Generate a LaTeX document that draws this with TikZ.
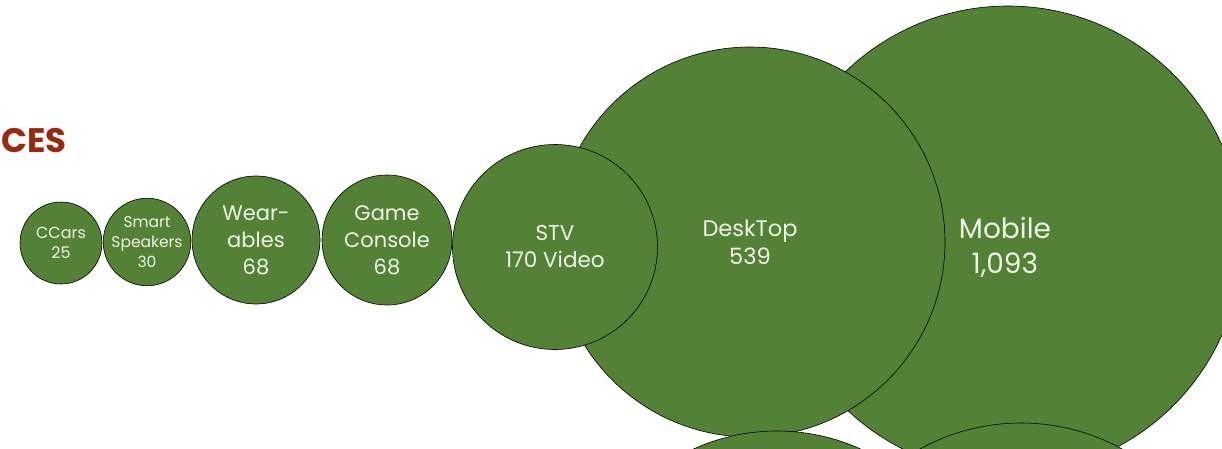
\documentclass[tikz,border=0pt]{standalone}
\usepackage{fontspec}
\setmainfont{Poppins}
\usepackage{xcolor}
\usepackage{tikz}
\definecolor{bubblegreen}{RGB}{83,129,53}
\definecolor{labelcream}{RGB}{240,242,232}
\definecolor{headred}{RGB}{153,40,15}
\tikzset{
    bubble/.style={circle, draw=black, line width=0.6pt, fill=bubblegreen, text=labelcream, align=center, inner sep=0pt},
    heading/.style={text=headred, font={\bfseries\fontsize{34}{38}\selectfont}, inner sep=0pt}
}

\begin{document}
\begin{tikzpicture}[x=1pt, y=-1pt]
    \useasboundingbox (0,0) rectangle (1222,449);
    \clip (0,0) rectangle (1222,449);

    % Title
    \node[heading, anchor=west] (title) at (1,141) {CES};

    % Large bubbles, back to front
    \node[bubble, minimum size=468] (mobile) at (1008,240) {};
    \node[text=labelcream, align=center, font={\fontsize{28}{35}\selectfont}] (mobiletext) at (1005,247) {Mobile\\1,093};
    \node[bubble, minimum size=390, font={\fontsize{22.5}{28}\selectfont}] (desktop) at (750,242) {DeskTop\\539};
    \node[bubble, minimum size=205, font={\fontsize{21.5}{27}\selectfont}] (stv) at (555,247) {STV\\170 Video};

    % Bubbles below the frame
    \node[bubble, minimum size=404] (lowleft) at (777,633) {};
    \node[bubble, minimum size=418] (lowright) at (1021,632) {};

    % Small bubbles
    \node[bubble, minimum size=130, font={\fontsize{21}{27}\selectfont}] (console) at (387,240) {Game\\Console\\68};
    \node[bubble, minimum size=128, font={\fontsize{21}{27}\selectfont}] (wearables) at (256,240) {Wear-\\ables\\68};
    \node[bubble, minimum size=85, font={\fontsize{15.5}{20}\selectfont}] (speakers) at (147,242) {Smart\\Speakers\\30};
    \node[bubble, minimum size=82, font={\fontsize{16}{20}\selectfont}] (ccars) at (61,243) {CCars\\25};
\end{tikzpicture}
\end{document}
